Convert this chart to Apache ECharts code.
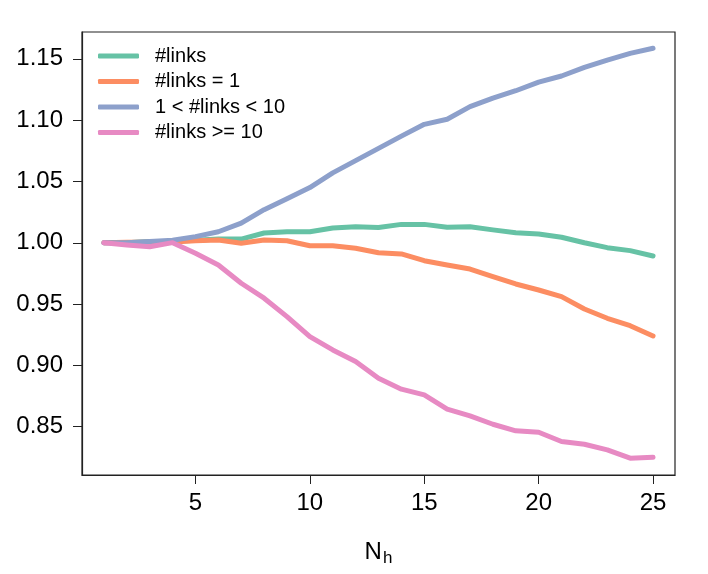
<!DOCTYPE html>
<html>
<head>
<meta charset="utf-8">
<script src="https://cdn.jsdelivr.net/npm/echarts@6/dist/echarts.min.js"></script>
<style>
	html, body { margin: 0; padding: 0; background: #fff; }
	#main { width: 708px; height: 574px; }
</style>
</head>
<body>
<div id="main"></div>
<script>
	// ****** data
	var nh = [1,2,3,4,5,6,7,8,9,10,11,12,13,14,15,16,17,18,19,20,21,22,23,24,25];
	var linksAll = [1.000,1.000,1.001,1.001,1.002,1.003,1.003,1.008,1.009,1.009,1.012,1.013,1.0125,1.015,1.015,1.0126,1.013,1.0105,1.0082,1.0072,1.0045,1.000,0.996,0.9936,0.9892];
	var linksOne = [1.000,1.0005,1.0005,1.0007,1.0017,1.0023,0.9996,1.0023,1.0017,0.9976,0.9976,0.9955,0.9918,0.9909,0.9854,0.9819,0.9786,0.9724,0.9664,0.9615,0.9561,0.946,0.9384,0.9324,0.924];
	var linksMid = [1.000,1.000,1.001,1.002,1.005,1.009,1.016,1.027,1.036,1.045,1.057,1.067,1.077,1.087,1.0966,1.1007,1.111,1.118,1.124,1.131,1.136,1.143,1.149,1.1545,1.1586];
	var linksMany = [1.000,0.9982,0.9968,1.0001,0.9914,0.9819,0.967,0.9548,0.9398,0.9235,0.9126,0.9031,0.8895,0.8806,0.8759,0.8643,0.8588,0.852,0.8466,0.8455,0.8379,0.8357,0.8311,0.8243,0.8251];
	var seriesNames = ['#links', '#links = 1', '1 < #links < 10', '#links >= 10'];
	var xTicks = [5, 10, 15, 20, 25];
	var yTicks = [0.85, 0.90, 0.95, 1.00, 1.05, 1.10, 1.15];

	var colors = ['#66c2a5', '#fc8d62', '#8da0cb', '#e78ac3'];
	var allData = [linksAll, linksOne, linksMid, linksMany];

	function pairs(ys){
		var out = [];
		for (var i = 0; i < nh.length; i++) {
			out.push([nh[i], ys[i]]);
		}
		return out;
	}

	var series = [];
	for (var k = 0; k < allData.length; k++) {
		series.push({
			name: seriesNames[k],
			type: 'line',
			data: pairs(allData[k]),
			symbol: 'none',
			showSymbol: false,
			lineStyle: { width: 5, color: colors[k], cap: 'round', join: 'round' },
			itemStyle: { color: colors[k] },
			animation: false
		});
	}

	var font = 'Liberation Sans, Arial, Helvetica, sans-serif';
	var myChart = echarts.init(document.getElementById('main'));
	var option = {
		animation: false,
		color: colors,
		grid: {
			left: 82, right: 33, top: 32, bottom: 99,
			show: true, borderColor: '#222', borderWidth: 1.2
		},
		legend: {
			orient: 'vertical',
			left: 93,
			top: 41,
			icon: 'roundRect',
			itemWidth: 41,
			itemHeight: 5,
			itemGap: 5.5,
			itemStyle: { borderWidth: 0 },
			textStyle: { fontFamily: font, fontSize: 20, color: '#000', padding: [0, 0, 0, 11] },
			data: seriesNames
		},
		xAxis: {
			type: 'value',
			min: 0.04,
			max: 25.96,
			name: '{n|N}{h|h}',
			nameLocation: 'middle',
			nameGap: 63,
			nameTextStyle: {
				fontFamily: font,
				color: '#000',
				rich: {
					n: { fontFamily: font, fontSize: 24, color: '#000' },
					h: { fontFamily: font, fontSize: 17, color: '#000', padding: [12, 0, 0, 1] }
				}
			},
			axisLine: { show: true, lineStyle: { color: '#222', width: 1.2 } },
			axisTick: { show: true, length: 9, inside: false, customValues: xTicks, lineStyle: { color: '#222' } },
			axisLabel: { customValues: xTicks, fontFamily: font, fontSize: 24, color: '#000', margin: 16 },
			splitLine: { show: false }
		},
		yAxis: {
			type: 'value',
			min: 0.8106,
			max: 1.1719,
			axisLine: { show: true, lineStyle: { color: '#222', width: 1.2 } },
			axisTick: { show: true, length: 9, customValues: yTicks, lineStyle: { color: '#222' } },
			axisLabel: {
				customValues: yTicks,
				fontFamily: font, fontSize: 24, color: '#000', margin: 19,
				formatter: function (v) { return v.toFixed(2); }
			},
			splitLine: { show: false }
		},
		series: series
	};
	option && myChart.setOption(option);
</script>
</body>
</html>
